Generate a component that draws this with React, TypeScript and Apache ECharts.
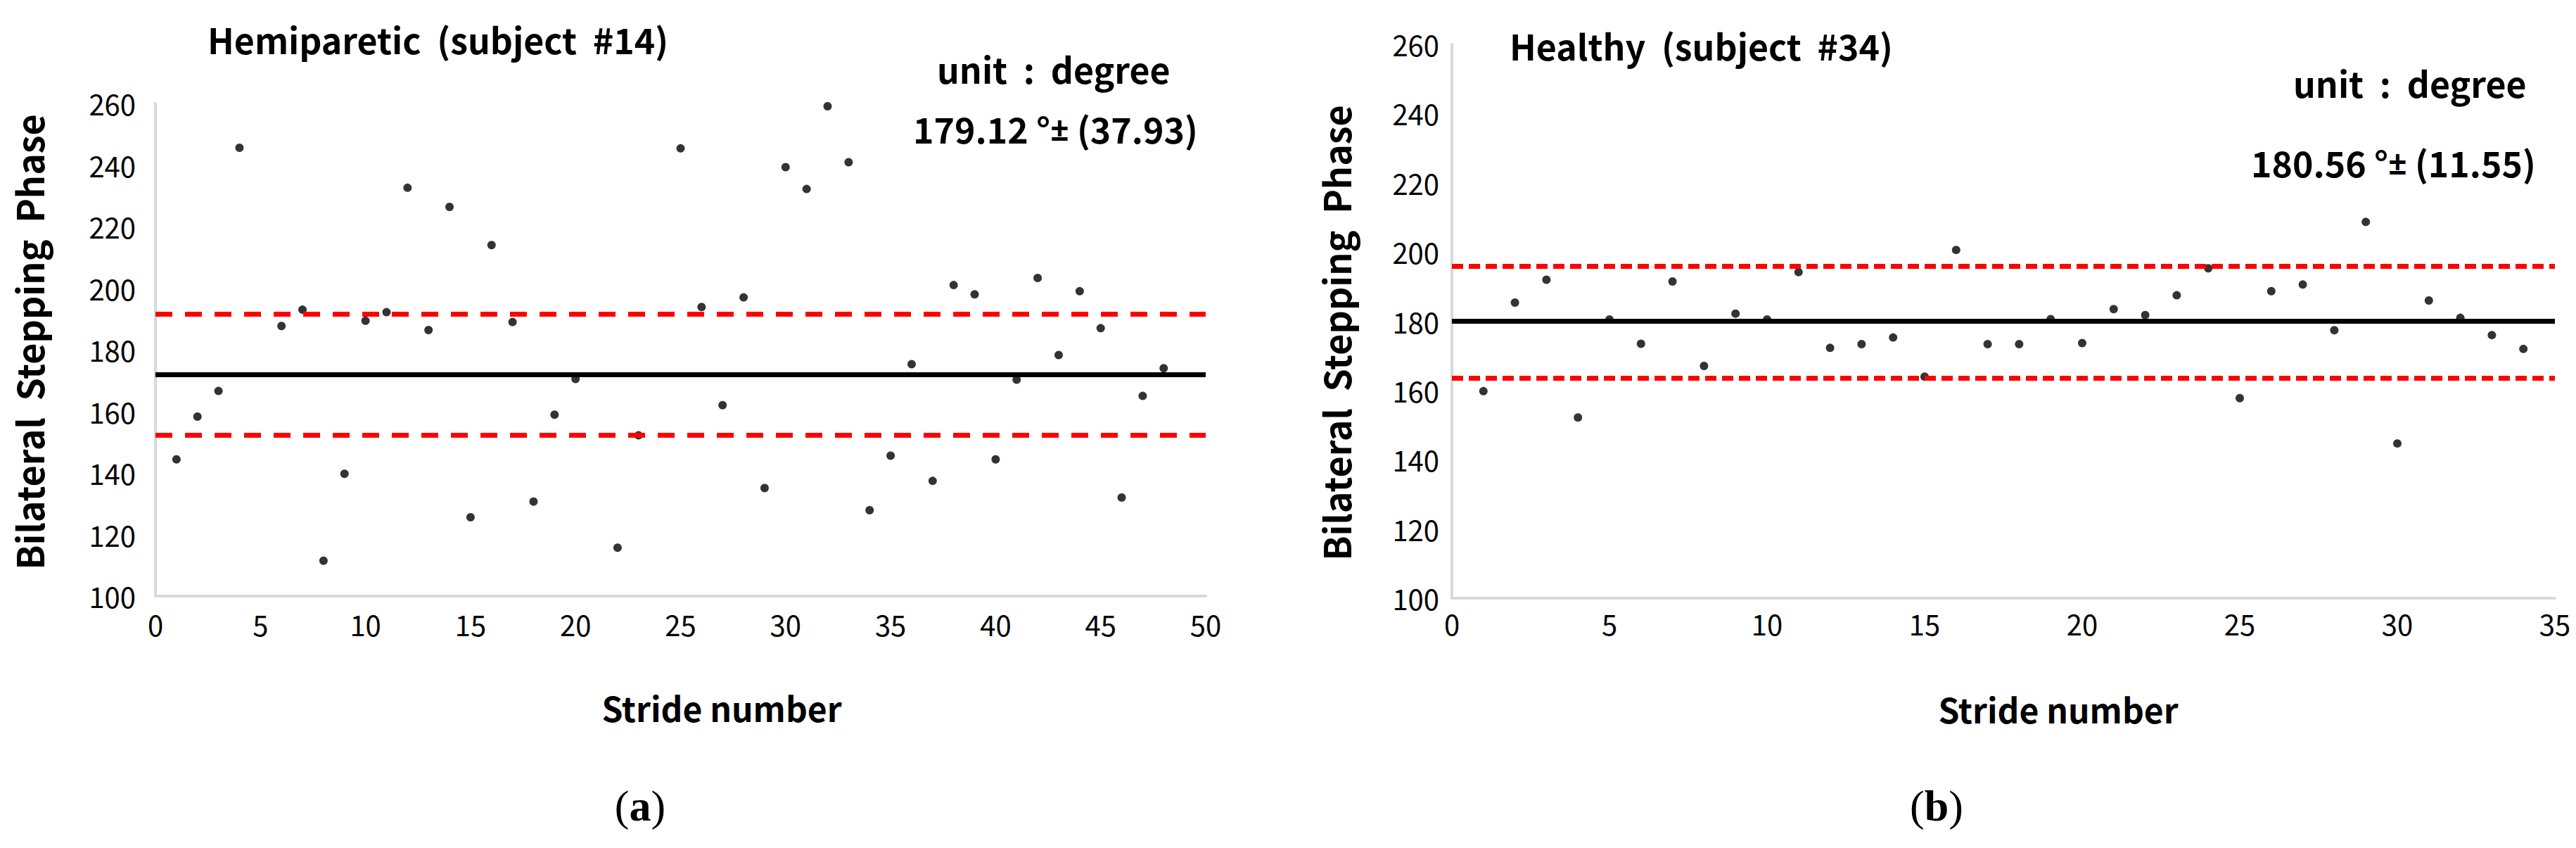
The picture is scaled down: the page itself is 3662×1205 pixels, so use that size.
import React, { useEffect, useRef } from "react";
import * as echarts from "echarts";

// ---- data ----
const leftStrides = [1, 2, 3, 4, 6, 7, 8, 9, 10, 11, 12, 13, 14, 15, 16, 17, 18, 19, 20, 22, 23, 25, 26, 27, 28, 29, 30, 31, 32, 33, 34, 35, 36, 37, 38, 39, 40, 41, 42, 43, 44, 45, 46, 47, 48];
const leftValues = [144.4, 158.3, 166.6, 245.6, 187.7, 193, 111.5, 139.7, 189.4, 192.2, 232.6, 186.4, 226.4, 125.6, 214, 189, 130.7, 158.9, 170.5, 115.7, 152.2, 245.4, 193.9, 162, 197, 135.1, 239.3, 232.2, 259.1, 240.9, 127.9, 145.6, 175.3, 137.4, 201, 198, 144.4, 170.3, 203.3, 178.3, 199, 187, 132, 165, 174];
const leftMeanLine = 172;
const leftUpperLine = 191.5;
const leftLowerLine = 152.2;

const rightStrides = [1, 2, 3, 4, 5, 6, 7, 8, 9, 10, 11, 12, 13, 14, 15, 16, 17, 18, 19, 20, 21, 22, 23, 24, 25, 26, 27, 28, 29, 30, 31, 32, 33, 34];
const rightValues = [159.8, 185.4, 192, 152.2, 180.5, 173.5, 191.5, 167.1, 182.2, 180.5, 194.2, 172.3, 173.4, 175.3, 164, 200.6, 173.4, 173.4, 180.6, 173.7, 183.5, 181.8, 187.5, 195.3, 157.8, 188.7, 190.6, 177.4, 208.7, 144.7, 186, 181, 176, 172];
const rightMeanLine = 180;
const rightUpperLine = 196;
const rightLowerLine = 163.6;

const leftXTicks = { min: 0, max: 50, interval: 5 };
const rightXTicks = { min: 0, max: 35, interval: 5 };
const yTicks = { min: 100, max: 260, interval: 20 };

const leftTitle = "Hemiparetic  (subject  #14)";
const rightTitle = "Healthy  (subject  #34)";
const unitText = "unit  :  degree";
const leftStat = "179.12 °{pm|±} (37.93)";
const rightStat = "180.56 °{pm|±} (11.55)";
const yName = "Bilateral  Stepping  Phase";
const xName = "Stride number";

const SANS = '"Noto Sans CJK KR", "Noto Sans", sans-serif';
const SERIF = '"Liberation Serif", "DejaVu Serif", serif';

function zip(xs: number[], ys: number[]) {
  return xs.map((x, i) => [x, ys[i]]);
}

function txt(text: string, x: number, y: number, size: number, opts: any = {}) {
  return {
    type: "text",
    x,
    y,
    rotation: opts.rotation || 0,
    silent: true,
    style: {
      text,
      fill: "#000",
      font: `${opts.weight || "bold"} ${size}px ${opts.family || SANS}`,
      textAlign: opts.align || "left",
      align: opts.align || "left",
      textVerticalAlign: "middle",
      verticalAlign: "middle",
      rich: opts.rich,
    },
  };
}

const pmRich = {
  pm: { fontFamily: '"Noto Sans", sans-serif', fontWeight: "bold", fontSize: 46, fill: "#000" },
};

export default function App() {
  const ref = useRef<HTMLDivElement>(null);

  useEffect(() => {
    if (!ref.current) return;
    const chart = echarts.init(ref.current, undefined, { renderer: "svg" });

    const axisLine = { show: true, lineStyle: { color: "#d9d9d9", width: 4 } };
    const tickLabel = { color: "#000", fontSize: 40, fontFamily: SANS };

    const markLines = (mean: number, up: number, low: number, dash: number[]) => ({
      silent: true,
      symbol: ["none", "none"],
      label: { show: false },
      data: [
        { yAxis: up, lineStyle: { color: "#ff0000", width: 7, type: dash } },
        { yAxis: low, lineStyle: { color: "#ff0000", width: 7, type: dash } },
        { yAxis: mean, lineStyle: { color: "#000", width: 7, type: "solid" } },
      ],
    });

    const option: any = {
      animation: false,
      backgroundColor: "#fff",
      grid: [
        { left: 221, top: 147, width: 1493, height: 700 },
        { left: 2064, top: 63, width: 1568, height: 787 },
      ],
      xAxis: [
        {
          gridIndex: 0, type: "value", ...leftXTicks,
          axisLine, axisTick: { show: false }, splitLine: { show: false },
          axisLabel: { ...tickLabel, margin: 20 },
        },
        {
          gridIndex: 1, type: "value", ...rightXTicks,
          axisLine, axisTick: { show: false }, splitLine: { show: false },
          axisLabel: { ...tickLabel, margin: 16 },
        },
      ],
      yAxis: [
        {
          gridIndex: 0, type: "value", ...yTicks,
          axisLine, axisTick: { show: false }, splitLine: { show: false },
          axisLabel: { ...tickLabel, margin: 28 },
        },
        {
          gridIndex: 1, type: "value", ...yTicks,
          axisLine, axisTick: { show: false }, splitLine: { show: false },
          axisLabel: { ...tickLabel, margin: 18 },
        },
      ],
      series: [
        {
          type: "scatter", xAxisIndex: 0, yAxisIndex: 0,
          symbolSize: 12, itemStyle: { color: "#000" },
          data: zip(leftStrides, leftValues),
          markLine: markLines(leftMeanLine, leftUpperLine, leftLowerLine, [24, 18]),
        },
        {
          type: "scatter", xAxisIndex: 1, yAxisIndex: 1,
          symbolSize: 12, itemStyle: { color: "#000" },
          data: zip(rightStrides, rightValues),
          markLine: markLines(rightMeanLine, rightUpperLine, rightLowerLine, [16, 8]),
        },
      ],
      graphic: [
        txt(leftTitle, 295, 55, 50),
        txt(unitText, 1332, 97, 50),
        txt(leftStat, 1298, 182, 50, { rich: pmRich }),
        txt(yName, 40, 486, 52, { align: "center", rotation: Math.PI / 2 }),
        txt(xName, 1026, 1005, 48, { align: "center" }),
        txt("({b|a})", 910, 1145, 62, {
          align: "center", weight: "normal", family: SERIF,
          rich: { b: { fontWeight: "bold", fontSize: 62, fontFamily: SERIF, fill: "#000" } },
        }),
        txt(rightTitle, 2146, 64, 50),
        txt(unitText, 3260, 117, 50),
        txt(rightStat, 3200, 230, 50, { rich: pmRich }),
        txt(yName, 1898, 473, 52, { align: "center", rotation: Math.PI / 2 }),
        txt(xName, 2926, 1007, 48, { align: "center" }),
        txt("({b|b})", 2753, 1145, 62, {
          align: "center", weight: "normal", family: SERIF,
          rich: { b: { fontWeight: "bold", fontSize: 62, fontFamily: SERIF, fill: "#000" } },
        }),
      ],
    };

    chart.setOption(option);
    return () => chart.dispose();
  }, []);

  return (
    <div
      ref={ref}
      style={{ position: "absolute", left: 0, top: 0, width: 3662, height: 1205, background: "#fff" }}
    />
  );
}
